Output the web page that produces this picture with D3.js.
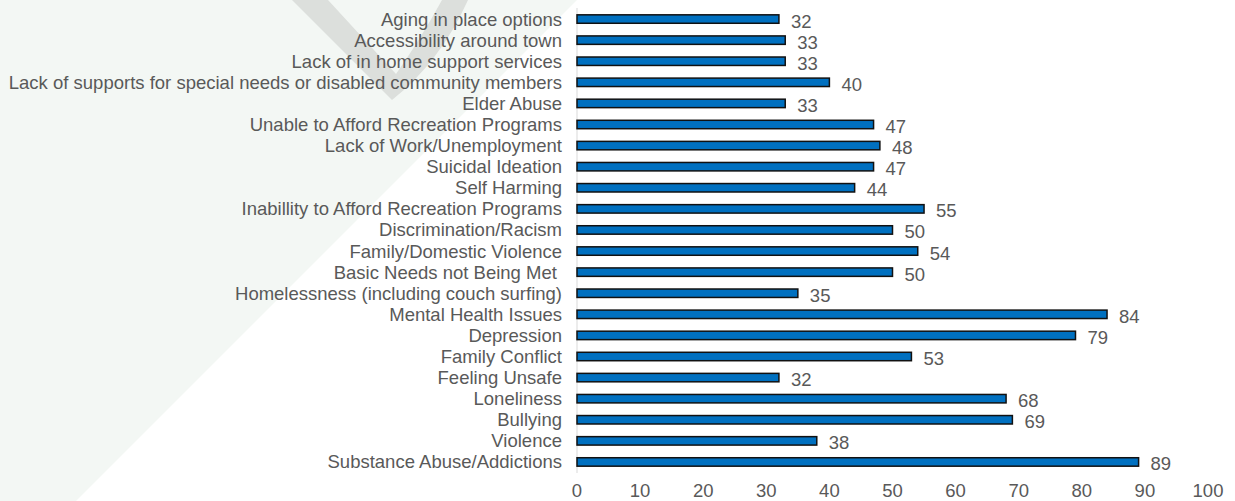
<html>
<head>
<style>
  body { margin: 0; background: #ffffff; }
  svg { display: block; }
</style>
</head>
<body>
<svg width="1235" height="501"></svg>
<script src="https://cdnjs.cloudflare.com/ajax/libs/d3/7.8.5/d3.min.js"></script>
<script>
// categories top to bottom, as in the chart
var categories = [
  "Aging in place options",
  "Accessibility around town",
  "Lack of in home support services",
  "Lack of supports for special needs or disabled community members",
  "Elder Abuse",
  "Unable to Afford Recreation Programs",
  "Lack of Work/Unemployment",
  "Suicidal Ideation",
  "Self Harming",
  "Inabillity to Afford Recreation Programs",
  "Discrimination/Racism",
  "Family/Domestic Violence",
  "Basic Needs not Being Met ",
  "Homelessness (including couch surfing)",
  "Mental Health Issues",
  "Depression",
  "Family Conflict",
  "Feeling Unsafe",
  "Loneliness",
  "Bullying",
  "Violence",
  "Substance Abuse/Addictions"
];
var values = [32, 33, 33, 40, 33, 47, 48, 47, 44, 55, 50, 54, 50, 35, 84, 79, 53, 32, 68, 69, 38, 89];
var xTicks = [0, 10, 20, 30, 40, 50, 60, 70, 80, 90, 100];

var svg = d3.select("svg"),
    width = +svg.attr("width"),
    height = +svg.attr("height");

var textColor = "#595959",
    font = "Liberation Sans, Arial, sans-serif";

// faint background watermark
svg.append("path")
  .attr("d", "M0,0 L577,0 L76,501 L0,501 Z")
  .style("fill", "#f3f7f4");
svg.append("path")
  .attr("d", "M292,0 L328,0 L396,74 Q420,40 442,0 L468,0 Q440,62 392,100 Z")
  .style("fill", "#dcdfdc");

var x = d3.scaleLinear().domain([0, 100]).range([577, 1208]);
var y = d3.scaleBand().domain(categories).range([8.5, 472.5]).paddingInner(0.6).paddingOuter(0.3);

// vertical axis line
svg.append("line")
  .attr("x1", x(0)).attr("x2", x(0))
  .attr("y1", 8).attr("y2", 473)
  .style("stroke", "#d9d9d9")
  .style("stroke-width", 1);

svg.selectAll("rect.bar")
  .data(values)
  .enter().append("rect")
  .attr("class", "bar")
  .attr("x", x(0))
  .attr("y", function(d, i) { return y(categories[i]); })
  .attr("width", function(d) { return x(d) - x(0); })
  .attr("height", y.bandwidth())
  .style("fill", "#0070c0")
  .style("stroke", "#111111")
  .style("stroke-width", 1.5);

// category labels
svg.selectAll("text.cat")
  .data(categories)
  .enter().append("text")
  .attr("class", "cat")
  .attr("x", x(0) - 15)
  .attr("y", function(d) { return y(d) + y.bandwidth() / 2; })
  .attr("dy", "0.35em")
  .attr("text-anchor", "end")
  .attr("xml:space", "preserve")
  .style("white-space", "pre")
  .style("font-family", font)
  .style("font-size", "18.5px")
  .style("fill", textColor)
  .text(function(d) { return d; });

// value labels
svg.selectAll("text.val")
  .data(values)
  .enter().append("text")
  .attr("class", "val")
  .attr("x", function(d) { return x(d) + 12; })
  .attr("y", function(d, i) { return y(categories[i]) + y.bandwidth() / 2 + 2; })
  .attr("dy", "0.35em")
  .style("font-family", font)
  .style("font-size", "18.5px")
  .style("fill", textColor)
  .text(function(d) { return d; });

// x tick labels
svg.selectAll("text.tick")
  .data(xTicks)
  .enter().append("text")
  .attr("class", "tick")
  .attr("x", function(d) { return x(d); })
  .attr("y", 491)
  .attr("dy", "0.35em")
  .attr("text-anchor", "middle")
  .style("font-family", font)
  .style("font-size", "18.5px")
  .style("fill", textColor)
  .text(function(d) { return d; });
</script>
</body>
</html>
